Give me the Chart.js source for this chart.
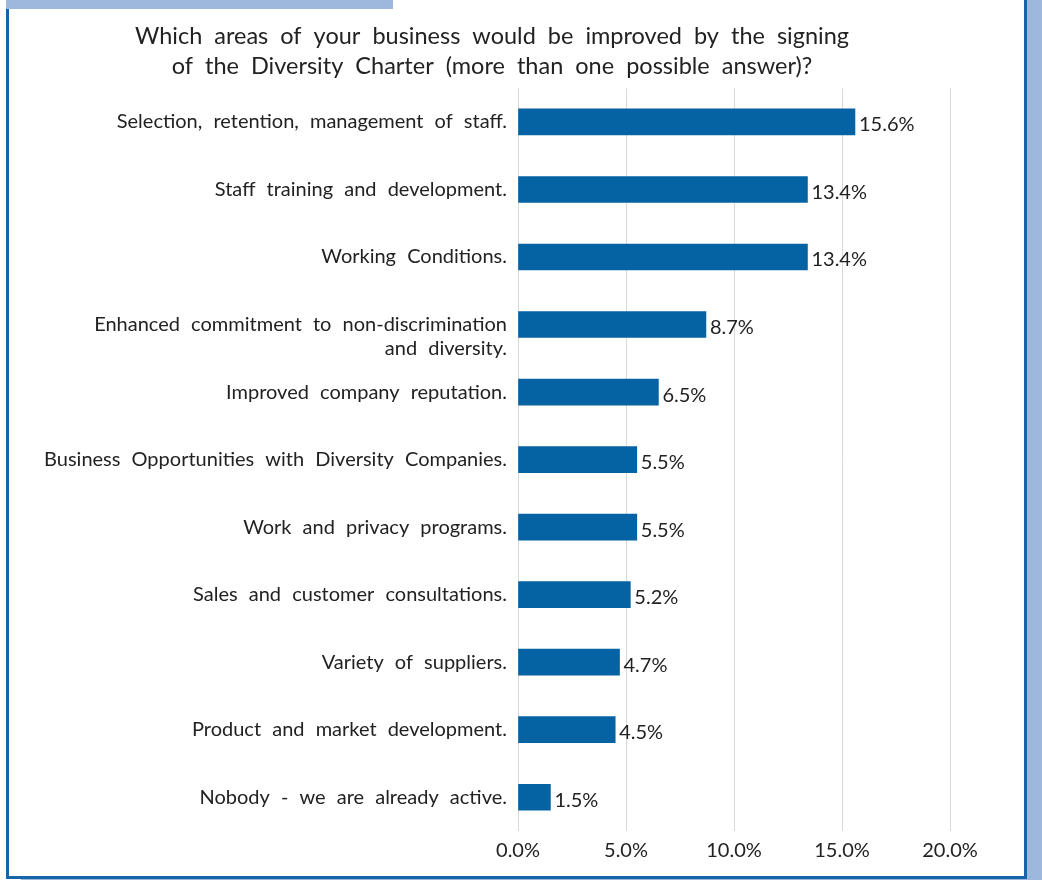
<!DOCTYPE html>
<html>
<head>
<meta charset="utf-8">
<script src="https://cdn.jsdelivr.net/npm/chart.js@4"></script>
<style>
  html, body { margin: 0; padding: 0; }
  body { width: 1042px; height: 880px; position: relative; overflow: hidden; background: #fff; }
  .strip { position: absolute; background: #9db8dc; }
  #panel {
    position: absolute; left: 6px; top: -10px; width: 1015px; height: 883px;
    border: 3px solid #1665a8; background: #fff;
  }
  #wrap { position: absolute; left: 34px; top: 0; width: 990px; height: 873px; }
</style>
</head>
<body>
<div class="strip" style="left:1027px; top:0; width:15px; height:880px;"></div>
<div class="strip" style="left:21px; top:877px; width:1021px; height:3px;"></div>
<div id="panel"></div>
<div class="strip" style="left:6px; top:0; width:387px; height:9px;"></div>
<div id="wrap"><canvas id="barChart"></canvas></div>
<script>
const titleLines = [
    'Which areas of your business would be improved by the signing',
    'of the Diversity Charter (more than one possible answer)?'
];

const categories = [
    'Selection, retention, management of staff.',
    'Staff training and development.',
    'Working Conditions.',
    ['', 'Enhanced commitment to non-discrimination', 'and diversity.'],
    'Improved company reputation.',
    'Business Opportunities with Diversity Companies.',
    'Work and privacy programs.',
    'Sales and customer consultations.',
    'Variety of suppliers.',
    'Product and market development.',
    'Nobody - we are already active.'
];

const shares = [15.6, 13.4, 13.4, 8.7, 6.5, 5.5, 5.5, 5.2, 4.7, 4.5, 1.5];

const xTicks = [0, 5, 10, 15, 20];

const FONT = 'Lato, "Open Sans", sans-serif';
const TEXT = '#222222';

const pct = v => Number(v).toFixed(1) + '%';

// wider gaps between words, re-applied since a canvas resize clears it
const spacing = {
    id: 'spacing',
    beforeUpdate(chart) { chart.ctx.wordSpacing = '6px'; },
    beforeDraw(chart) { chart.ctx.wordSpacing = '6px'; }
};

// value text at the end of each bar
const barValues = {
    id: 'barValues',
    afterDatasetsDraw(chart) {
        const ctx = chart.ctx;
        const meta = chart.getDatasetMeta(0);
        ctx.save();
        ctx.font = '20px ' + FONT;
        ctx.fillStyle = TEXT;
        ctx.textAlign = 'left';
        ctx.textBaseline = 'middle';
        meta.data.forEach((bar, i) => {
            ctx.fillText(pct(chart.data.datasets[0].data[i]), bar.x + 4, bar.y + 3);
        });
        ctx.restore();
    }
};

const config = {
    type: 'bar',
    data: {
        labels: categories,
        datasets: [{
            data: shares,
            backgroundColor: '#0563a3',
            borderWidth: 0,
            barThickness: 26,
        }]
    },
    options: {
        indexAxis: 'y',
        responsive: true,
        maintainAspectRatio: false,
        animation: false,
        layout: { padding: { left: 0, right: 74, top: 0, bottom: 0 } },
        scales: {
            x: {
                min: 0,
                max: 20,
                afterBuildTicks: s => { s.ticks = xTicks.map(v => ({ value: v })); },
                afterFit: s => { s.height = 42; },
                grid: { color: '#d9d9d9', lineWidth: 1, drawTicks: false },
                border: { display: false },
                ticks: {
                    callback: v => pct(v),
                    color: TEXT,
                    font: { family: FONT, size: 20 },
                    padding: 8,
                },
            },
            y: {
                afterFit: s => { s.width = 484; },
                grid: { display: false, drawTicks: false },
                border: { display: false },
                ticks: {
                    color: TEXT,
                    font: { family: FONT, size: 20, lineHeight: 1.2 },
                    padding: 11,
                    autoSkip: false,
                },
            }
        },
        plugins: {
            legend: { display: false },
            tooltip: { enabled: false },
            title: {
                display: true,
                text: titleLines,
                color: TEXT,
                font: { family: FONT, size: 23.5, weight: 'normal', lineHeight: 1.28 },
                padding: { top: 21, bottom: 7 },
            },
        },
    },
    plugins: [spacing, barValues],
};

const ctx = document.getElementById('barChart').getContext('2d');
const chart = new Chart(ctx, config);
</script>
</body>
</html>
